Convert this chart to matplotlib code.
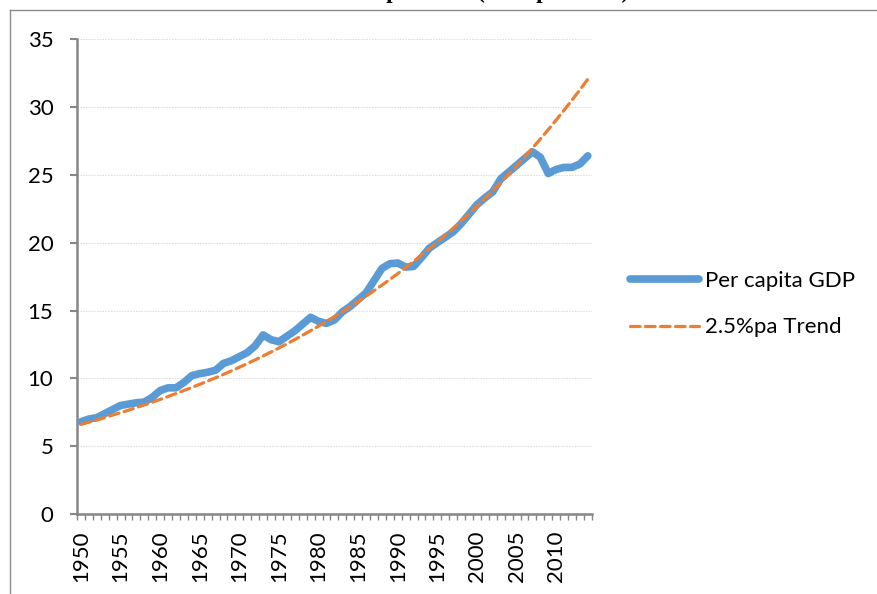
import numpy as np
import matplotlib.pyplot as plt
from matplotlib.lines import Line2D

# years shown on the category axis
years = list(range(1950, 2015))

# per capita GDP, £000 per head
gdp = [6.8, 7.0, 7.1, 7.4, 7.7, 8.0, 8.1, 8.2, 8.25, 8.6,
       9.1, 9.3, 9.3, 9.7, 10.2, 10.35, 10.45, 10.6, 11.1, 11.3,
       11.6, 11.9, 12.4, 13.2, 12.85, 12.7, 13.1, 13.5, 14.0, 14.5,
       14.2, 14.05, 14.3, 14.9, 15.3, 15.8, 16.3, 17.2, 18.1, 18.45,
       18.5, 18.2, 18.25, 18.9, 19.6, 20.0, 20.4, 20.8, 21.4, 22.1,
       22.8, 23.3, 23.75, 24.7, 25.2, 25.7, 26.2, 26.7, 26.3, 25.1,
       25.4, 25.55, 25.55, 25.8, 26.4]

# 2.5% per annum trend line
trend = [6.60, 6.77, 6.93, 7.11, 7.29, 7.47, 7.65, 7.85, 8.04, 8.24,
         8.45, 8.66, 8.88, 9.10, 9.33, 9.56, 9.80, 10.04, 10.29, 10.55,
         10.82, 11.09, 11.36, 11.65, 11.94, 12.24, 12.54, 12.86, 13.18, 13.51,
         13.85, 14.19, 14.55, 14.91, 15.28, 15.66, 16.06, 16.46, 16.87, 17.29,
         17.72, 18.17, 18.62, 19.09, 19.56, 20.05, 20.55, 21.07, 21.59, 22.13,
         22.69, 23.25, 23.84, 24.43, 25.04, 25.67, 26.31, 26.97, 27.64, 28.33,
         29.04, 29.77, 30.51, 31.27, 32.06]

plt.rcParams['font.family'] = ['Lato', 'DejaVu Sans']
gray = '#868686'

fig = plt.figure(figsize=(8.77, 5.94), dpi=100)
ax = fig.add_axes([0.0878, 0.1347, 0.587, 0.7993])

x = np.arange(len(years))
ax.plot(x, gdp, color='#5B9BD5', lw=5.5, solid_capstyle='round',
        solid_joinstyle='round', label='Per capita GDP', zorder=3)
ax.plot(x, trend, color='#ED7D31', lw=2.3, dashes=(3, 1.7),
        dash_capstyle='round', label='2.5%pa Trend', zorder=4)

ax.set_xlim(-0.5, len(years) - 0.5)
ax.set_ylim(0, 35)
ax.set_yticks(range(0, 36, 5))
ax.set_xticks(x[::5])
ax.set_xticklabels([str(y) for y in years[::5]], rotation=90)
ax.set_xticks(np.arange(-0.5, len(years), 1), minor=True)

ax.tick_params(axis='x', which='major', length=0, pad=12, labelsize=16)
ax.tick_params(axis='x', which='minor', length=4, width=1, color=gray)
ax.tick_params(axis='y', length=5, width=1.5, color=gray, pad=12, labelsize=16)

ax.grid(axis='y', color='#dedede', lw=0.8, linestyle=(0, (1.5, 1)))
ax.set_axisbelow(True)
for s in ['top', 'right']:
    ax.spines[s].set_visible(False)
for s in ['left', 'bottom']:
    ax.spines[s].set_color(gray)
    ax.spines[s].set_linewidth(1.8)

ax.legend(loc='center left', bbox_to_anchor=(0.718, 0.488),
          bbox_transform=fig.transFigure, frameon=False, fontsize=16,
          handlelength=3.1, handletextpad=0.3, labelspacing=1.2,
          borderpad=0, borderaxespad=0)

# outer chart border (top and left only visible)
fig.add_artist(Line2D([10 / 877, 10 / 877], [0, 1 - 10 / 594],
                      transform=fig.transFigure, color='#8c8c8c', lw=1))
fig.add_artist(Line2D([10 / 877, 1], [1 - 10 / 594, 1 - 10 / 594],
                      transform=fig.transFigure, color='#8c8c8c', lw=1))

# title mostly cut off above the image
fig.text(0.52, 1 + 2 / 594, 'Real GDP per head (£000 per head)',
         family='Liberation Serif', weight='bold', fontsize=16.5,
         ha='center', va='baseline')

fig.savefig('out.png', dpi=100)
